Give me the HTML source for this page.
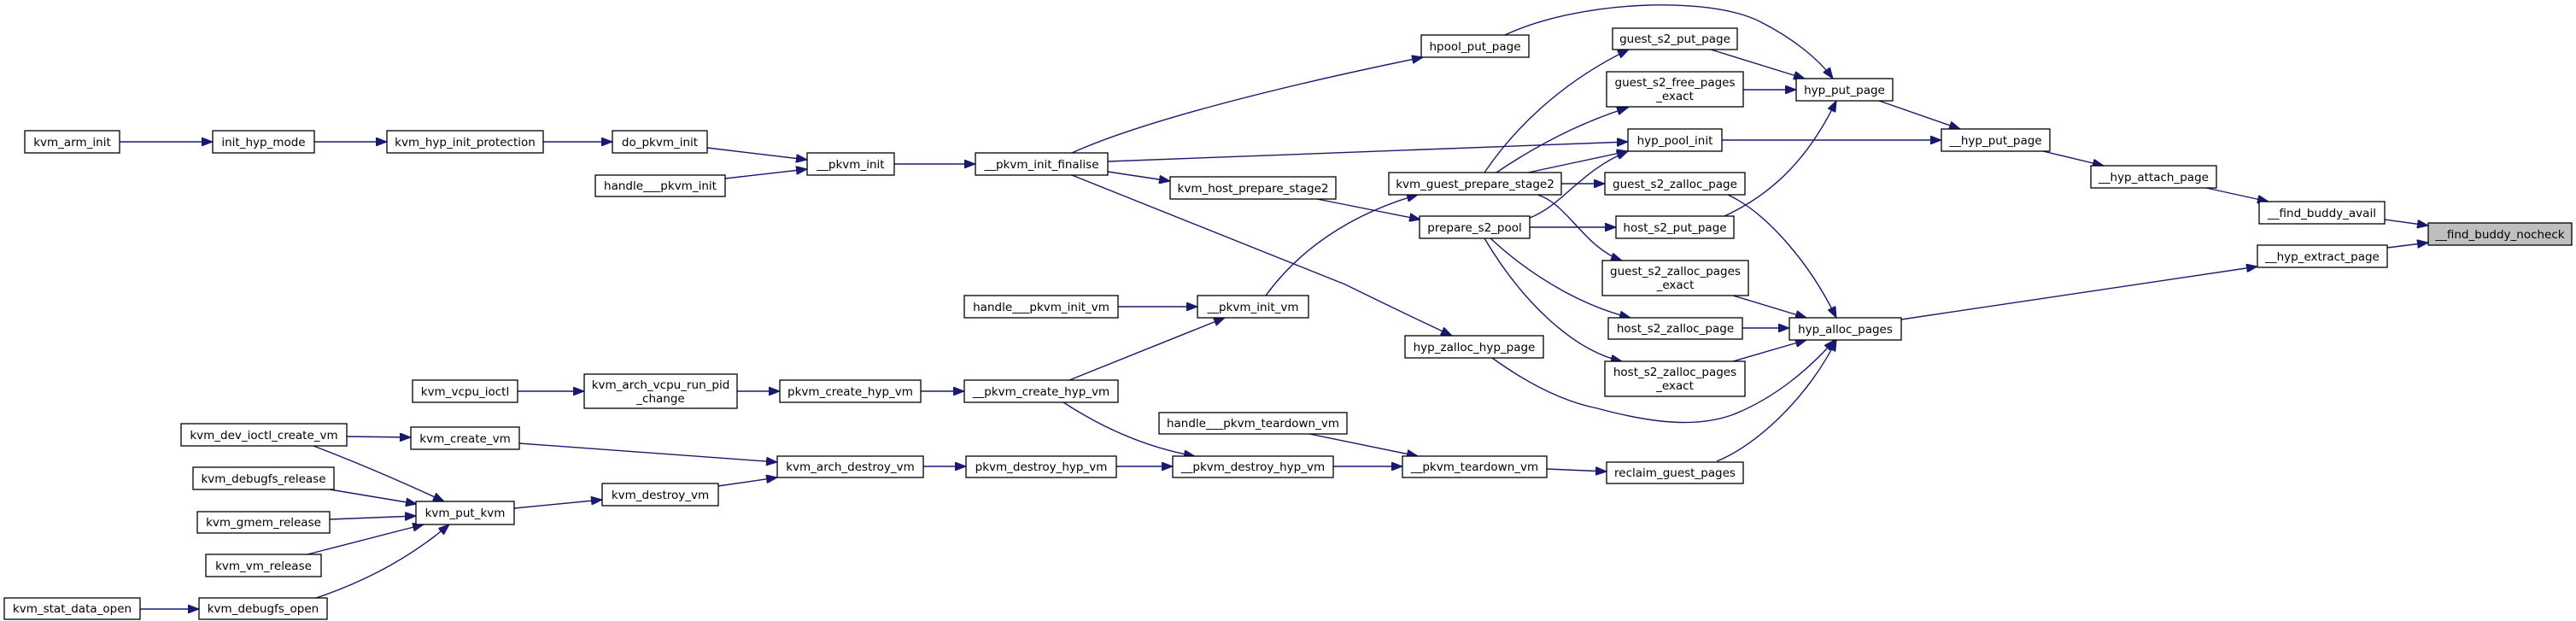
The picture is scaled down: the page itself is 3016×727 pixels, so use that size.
<!DOCTYPE html>
<html><head><meta charset="utf-8"><style>
html,body{margin:0;padding:0;background:#fff;}
svg{display:block;}
text{font-family:"DejaVu Sans","Liberation Sans",sans-serif;font-size:13.5px;fill:#000;text-anchor:middle;}
rect{fill:#fff;stroke:#000;stroke-width:1.3;}
path{fill:none;stroke:#191970;stroke-width:1.4;}
</style></head><body>
<svg width="3016" height="727" viewBox="0 0 3016 727" xmlns="http://www.w3.org/2000/svg">
<defs><marker id="a" markerUnits="userSpaceOnUse" markerWidth="14" markerHeight="10" refX="13" refY="5" orient="auto"><path d="M0,0 L13,5 L0,10 z" style="fill:#191970;stroke:#191970;stroke-width:1"/></marker></defs>
<g marker-end="url(#a)">
<path d="M140,166 L249,166"/>
<path d="M368,166 L453,166"/>
<path d="M636,166 L717,166"/>
<path d="M828,173 L945,187"/>
<path d="M849,209 L945,198"/>
<path d="M1047,192 L1142,192"/>
<path d="M1255,179 C1330,145 1480,105 1666,67"/>
<path d="M1297,189 L1906,166"/>
<path d="M1297,201 L1370,212"/>
<path d="M1255,205 L1575,333 Q1640,365 1700,393"/>
<path d="M1542,233 L1663,257"/>
<path d="M1762,41 C1850,0 2000,-5 2060,25 C2100,45 2130,70 2146,92"/>
<path d="M2003,58 L2113,92"/>
<path d="M2041,105 L2103,105"/>
<path d="M2016,164 L2273,164"/>
<path d="M2200,118 L2295,151"/>
<path d="M2392,177 L2463,194"/>
<path d="M2583,220 L2656,236"/>
<path d="M2792,257 L2843,264"/>
<path d="M2795,290 L2843,284"/>
<path d="M2226,374 L2643,312"/>
<path d="M1738,202 C1780,140 1840,90 1907,58"/>
<path d="M1752,202 Q1829,150 1906,126"/>
<path d="M1789,202 L1906,177"/>
<path d="M1828,215 L1879,215"/>
<path d="M1800,228 C1835,238 1855,290 1899,305"/>
<path d="M1791,255 C1830,240 1850,200 1906,177"/>
<path d="M1791,266 L1892,266"/>
<path d="M1745,279 C1800,330 1860,360 1909,372"/>
<path d="M1738,279 C1780,350 1840,410 1899,423"/>
<path d="M2019,253 C2080,225 2120,180 2150,118"/>
<path d="M2023,228 C2070,250 2120,310 2150,372"/>
<path d="M2029,346 L2115,372"/>
<path d="M2040,384 L2095,384"/>
<path d="M2029,423 L2115,398"/>
<path d="M1747,419 C1790,450 1830,470 1870,478 C1940,497 1990,500 2030,485 C2080,465 2120,430 2148,398"/>
<path d="M2010,540 C2060,520 2120,460 2150,398"/>
<path d="M1309,359 L1402,359"/>
<path d="M1482,346 C1530,280 1600,245 1660,228"/>
<path d="M1252,445 L1434,372"/>
<path d="M606,458 L684,458"/>
<path d="M863,458 L913,458"/>
<path d="M1078,458 L1129,458"/>
<path d="M1245,471 Q1320,520 1399,534"/>
<path d="M1081,546 L1131,546"/>
<path d="M1307,546 L1373,546"/>
<path d="M1561,546 L1642,546"/>
<path d="M1533,508 L1660,534"/>
<path d="M1811,549 L1881,552"/>
<path d="M406,511 L481,512"/>
<path d="M367,522 Q440,550 520,587"/>
<path d="M386,573 L488,590"/>
<path d="M386,608 L487,604"/>
<path d="M360,649 L496,614"/>
<path d="M370,700 Q460,670 526,614"/>
<path d="M164,713 L233,713"/>
<path d="M608,519 L910,541"/>
<path d="M602,595 L705,585"/>
<path d="M841,569 L910,559"/>
</g>
<g>
<rect x="29" y="153" width="111" height="26"/><text x="84.5" y="171">kvm_arm_init</text>
<rect x="249" y="153" width="119" height="26"/><text x="308.5" y="171">init_hyp_mode</text>
<rect x="453" y="153" width="183" height="26"/><text x="544.5" y="171">kvm_hyp_init_protection</text>
<rect x="717" y="153" width="111" height="26"/><text x="772.5" y="171">do_pkvm_init</text>
<rect x="697" y="205" width="152" height="25"/><text x="773" y="222">handle___pkvm_init</text>
<rect x="945" y="179" width="102" height="26"/><text x="996" y="197">__pkvm_init</text>
<rect x="1142" y="179" width="155" height="26"/><text x="1219.5" y="197">__pkvm_init_finalise</text>
<rect x="1664" y="41" width="126" height="26"/><text x="1727" y="59">hpool_put_page</text>
<rect x="1888" y="33" width="146" height="25"/><text x="1961" y="50">guest_s2_put_page</text>
<rect x="1881" y="84" width="160" height="41"/><text x="1961" y="101">guest_s2_free_pages</text><text x="1961" y="117">_exact</text>
<rect x="1906" y="151" width="110" height="26"/><text x="1961" y="169">hyp_pool_init</text>
<rect x="1370" y="207" width="194" height="26"/><text x="1467" y="225">kvm_host_prepare_stage2</text>
<rect x="1626" y="202" width="202" height="26"/><text x="1727" y="220">kvm_guest_prepare_stage2</text>
<rect x="1879" y="202" width="164" height="26"/><text x="1961" y="220">guest_s2_zalloc_page</text>
<rect x="1662" y="253" width="129" height="26"/><text x="1726.5" y="271">prepare_s2_pool</text>
<rect x="1892" y="253" width="138" height="26"/><text x="1961" y="271">host_s2_put_page</text>
<rect x="1876" y="305" width="171" height="41"/><text x="1961.5" y="322">guest_s2_zalloc_pages</text><text x="1961.5" y="338">_exact</text>
<rect x="1129" y="346" width="180" height="26"/><text x="1219" y="364">handle___pkvm_init_vm</text>
<rect x="1402" y="346" width="130" height="26"/><text x="1467" y="364">__pkvm_init_vm</text>
<rect x="1883" y="372" width="157" height="25"/><text x="1961.5" y="389">host_s2_zalloc_page</text>
<rect x="1645" y="393" width="162" height="26"/><text x="1726" y="411">hyp_zalloc_hyp_page</text>
<rect x="1879" y="423" width="164" height="41"/><text x="1961" y="440">host_s2_zalloc_pages</text><text x="1961" y="456">_exact</text>
<rect x="483" y="445" width="123" height="26"/><text x="544.5" y="463">kvm_vcpu_ioctl</text>
<rect x="684" y="438" width="179" height="40"/><text x="773.5" y="455">kvm_arch_vcpu_run_pid</text><text x="773.5" y="471">_change</text>
<rect x="913" y="445" width="165" height="26"/><text x="995.5" y="463">pkvm_create_hyp_vm</text>
<rect x="1129" y="445" width="180" height="26"/><text x="1219" y="463">__pkvm_create_hyp_vm</text>
<rect x="1357" y="483" width="220" height="25"/><text x="1467" y="500">handle___pkvm_teardown_vm</text>
<rect x="212" y="496" width="194" height="26"/><text x="309" y="514">kvm_dev_ioctl_create_vm</text>
<rect x="481" y="500" width="127" height="26"/><text x="544.5" y="518">kvm_create_vm</text>
<rect x="910" y="534" width="171" height="25"/><text x="995.5" y="551">kvm_arch_destroy_vm</text>
<rect x="1131" y="534" width="176" height="25"/><text x="1219" y="551">pkvm_destroy_hyp_vm</text>
<rect x="1373" y="534" width="188" height="25"/><text x="1467" y="551">__pkvm_destroy_hyp_vm</text>
<rect x="1642" y="534" width="169" height="25"/><text x="1726.5" y="551">__pkvm_teardown_vm</text>
<rect x="1881" y="541" width="160" height="25"/><text x="1961" y="558">reclaim_guest_pages</text>
<rect x="226" y="547" width="165" height="26"/><text x="308.5" y="565">kvm_debugfs_release</text>
<rect x="705" y="566" width="136" height="26"/><text x="773" y="584">kvm_destroy_vm</text>
<rect x="487" y="587" width="115" height="27"/><text x="544.5" y="605">kvm_put_kvm</text>
<rect x="231" y="599" width="155" height="25"/><text x="308.5" y="616">kvm_gmem_release</text>
<rect x="241" y="649" width="135" height="26"/><text x="308.5" y="667">kvm_vm_release</text>
<rect x="5" y="700" width="159" height="25"/><text x="84.5" y="717">kvm_stat_data_open</text>
<rect x="233" y="700" width="150" height="25"/><text x="308" y="717">kvm_debugfs_open</text>
<rect x="2103" y="92" width="113" height="26"/><text x="2159.5" y="110">hyp_put_page</text>
<rect x="2273" y="151" width="127" height="26"/><text x="2336.5" y="169">__hyp_put_page</text>
<rect x="2448" y="194" width="147" height="26"/><text x="2521.5" y="212">__hyp_attach_page</text>
<rect x="2645" y="236" width="147" height="26"/><text x="2718.5" y="254">__find_buddy_avail</text>
<rect x="2843" y="261" width="168" height="26" style="fill:#bfbfbf"/><text x="2927" y="279">__find_buddy_nocheck</text>
<rect x="2643" y="287" width="152" height="26"/><text x="2719" y="305">__hyp_extract_page</text>
<rect x="2095" y="372" width="131" height="26"/><text x="2160.5" y="390">hyp_alloc_pages</text>
</g>
</svg>
</body></html>
